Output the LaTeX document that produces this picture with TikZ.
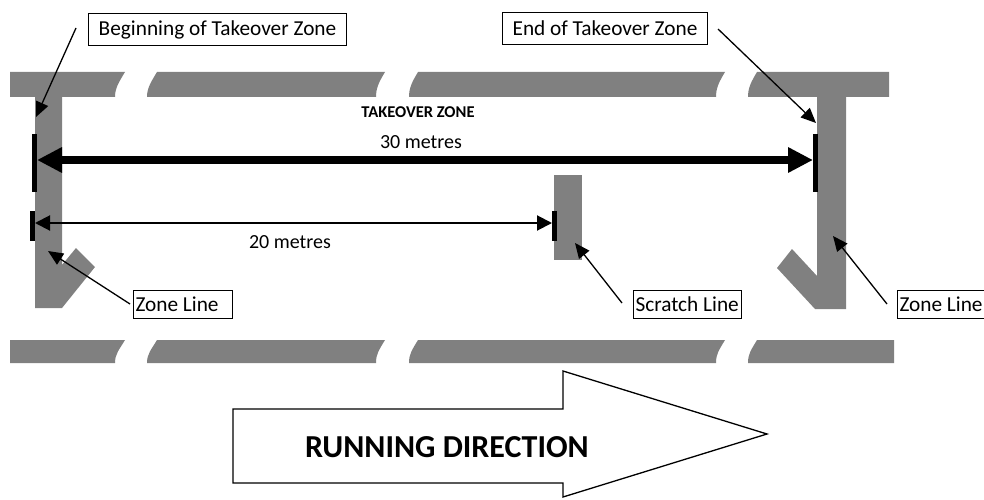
\documentclass[tikz,border=0pt]{standalone}
\usepackage{fontspec}
\setmainfont{Carlito}
\usetikzlibrary{arrows.meta}
\newcommand\lanepiece[6]{%
  \fill[lane] (#3,#1) -- (#5,#1) .. controls +(-6,10) and +(0,-9) .. (#6,#2)
    -- (#4,#2) .. controls +(0,-9) and +(-6,10) .. (#3,#1) -- cycle;}
\newcommand\lbltext[3][l]{\makebox[#2][#1]{#3}}
\begin{document}
\begin{tikzpicture}[x=1pt,y=-1pt,
  lane/.style={fill=black!50,draw=none},
  lbl/.style={draw,line width=1pt,font=\fontsize{21.3}{24}\selectfont,inner xsep=3pt,inner ysep=0pt,anchor=north west},
  pointer/.style={-{Triangle[length=15pt,width=13pt]},line width=1.3pt},
  tick/.style={line width=5pt},
  bigdim/.style={line width=8pt,{Triangle[length=25pt,width=24pt]}-{Triangle[length=25pt,width=24pt]}},
  smalldim/.style={line width=2pt,{Triangle[length=15pt,width=15pt]}-{Triangle[length=15pt,width=15pt]}},
  bigarrow/.style={draw,line width=1.3pt,fill=white}]
\useasboundingbox (0,0) rectangle (984,500);
% top lane band
\fill[lane] (10,72) -- (125,72) .. controls +(-6,10) and +(0,-9) .. (115,97) -- (10,97) -- cycle;
\lanepiece{72}{97}{157}{147}{385}{376}
\lanepiece{72}{97}{418}{409}{725}{716}
\fill[lane] (757,72) -- (889,72) -- (889,97) -- (748,97) .. controls +(0,-9) and +(-6,10) .. (757,72) -- cycle;
% bottom lane band
\fill[lane] (10,340) -- (125,340) .. controls +(-6,10) and +(0,-9) .. (115,363) -- (10,363) -- cycle;
\lanepiece{340}{363}{157}{147}{385}{376}
\lanepiece{340}{363}{418}{409}{725}{716}
\fill[lane] (757,340) -- (894,340) -- (894,363) -- (748,363) .. controls +(0,-9) and +(-6,10) .. (757,340) -- cycle;
% zone lines and scratch line
\fill[lane] (35,97) -- (62,97) -- (62,265) -- (76,248) -- (95,267) -- (62,308) -- (35,308) -- cycle;
\fill[lane] (817,97) -- (846,97) -- (846,309) -- (815,309) -- (777,268) -- (792,249) -- (817,276) -- cycle;
\fill[lane] (554,175) rectangle (582,260);
% dimension lines
\coordinate (bigL) at (37,160);
\coordinate (bigR) at (813,160);
\coordinate (tickAt) at (34.5,134);
\coordinate (tickAb) at (34.5,192);
\coordinate (tickBt) at (815.5,134);
\coordinate (tickBb) at (815.5,192);
\draw[tick] (tickAt) -- (tickAb);
\draw[tick] (tickBt) -- (tickBb);
\draw[bigdim] (bigL) -- (bigR);
\coordinate (smL) at (35,223);
\coordinate (smR) at (552,223);
\coordinate (tickCt) at (32.5,211);
\coordinate (tickCb) at (32.5,241);
\coordinate (tickDt) at (554,211);
\coordinate (tickDb) at (554,241);
\draw[tick] (tickCt) -- (tickCb);
\draw[tick] (tickDt) -- (tickDb);
\draw[smalldim] (smL) -- (smR);
\node[font=\bfseries\fontsize{16.5}{18}\selectfont] (tz) at (418,112) {TAKEOVER ZONE};
\node[font=\fontsize{20}{22}\selectfont] (m30) at (421,142) {30 metres};
\node[font=\fontsize{20}{22}\selectfont] (m20) at (290,242) {20 metres};
% labels
\node[lbl,minimum height=32pt] (beg) at (88,13) {\lbltext[c]{252pt}{Beginning of Takeover Zone}};
\node[lbl,minimum height=32pt] (end) at (502,12) {\lbltext[c]{199pt}{End of Takeover Zone}};
\node[lbl,minimum height=28pt,inner xsep=2pt] (zl1) at (133,290) {\lbltext{95pt}{Zone Line}};
\node[lbl,minimum height=28pt,inner xsep=2pt] (scr) at (633,290) {\lbltext{104pt}{Scratch Line}};
\node[lbl,minimum height=28pt,inner xsep=2pt] (zl2) at (897,290) {\lbltext{95pt}{Zone Line}};
\coordinate (begS) at (76,28);
\coordinate (begT) at (36,117);
\coordinate (endS) at (718,29);
\coordinate (endT) at (816,123);
\coordinate (zl1S) at (130,304);
\coordinate (zl1T) at (48,251);
\coordinate (scrS) at (622,303);
\coordinate (scrT) at (575,243);
\coordinate (zl2S) at (887,304);
\coordinate (zl2T) at (833,236);
\draw[pointer] (begS) -- (begT);
\draw[pointer] (endS) -- (endT);
\draw[pointer] (zl1S) -- (zl1T);
\draw[pointer] (scrS) -- (scrT);
\draw[pointer] (zl2S) -- (zl2T);
% running direction arrow
\draw[bigarrow] (233,409) -- (563,409) -- (563,371) -- (767,434) -- (563,497) -- (563,483) -- (233,483) -- cycle;
\node[font=\bfseries\fontsize{32}{36}\selectfont] (run) at (447,447) {RUNNING DIRECTION};
\end{tikzpicture}
\end{document}
